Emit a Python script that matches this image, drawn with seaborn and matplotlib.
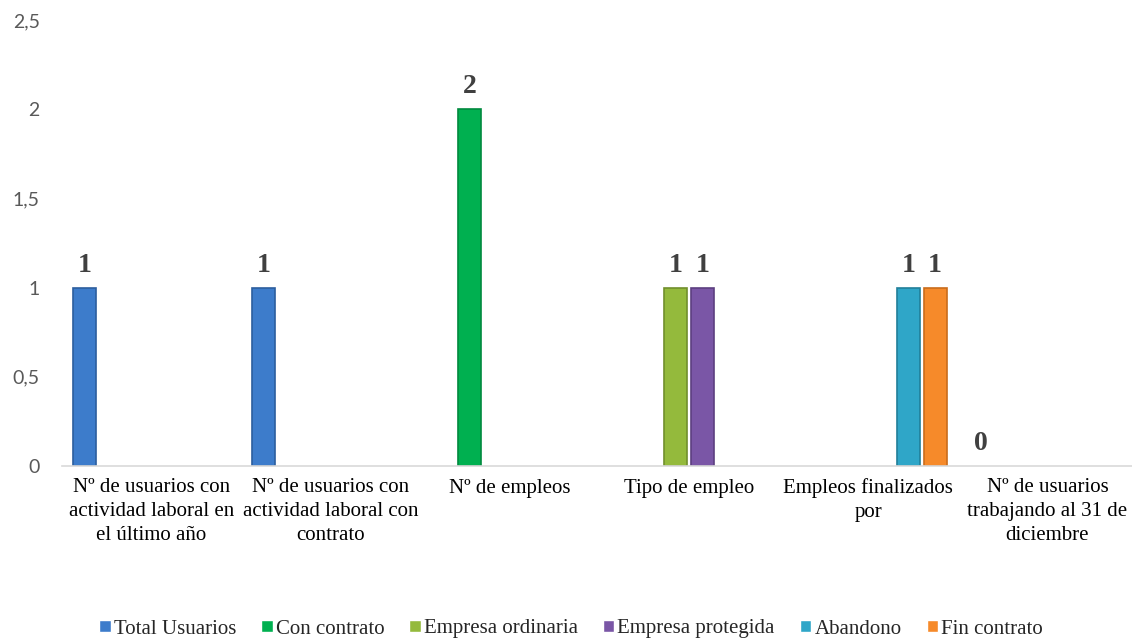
import matplotlib
import matplotlib.pyplot as plt
import numpy as np
import pandas as pd
import seaborn as sns
from matplotlib.font_manager import FontProperties

matplotlib.use("Agg")

categories = [
    "Nº de usuarios con\nactividad laboral en\nel último año",
    "Nº de usuarios con\nactividad laboral con\ncontrato",
    "Nº de empleos",
    "Tipo de empleo",
    "Empleos finalizados\npor",
    "Nº de usuarios\ntrabajando al 31 de\ndiciembre",
]
series = [
    "Total Usuarios",
    "Con contrato",
    "Empresa ordinaria",
    "Empresa protegida",
    "Abandono",
    "Fin contrato",
]
nan = np.nan
total_usuarios = [1, 1, nan, nan, nan, 0]
con_contrato = [nan, nan, 2, nan, nan, nan]
empresa_ordinaria = [nan, nan, nan, 1, nan, nan]
empresa_protegida = [nan, nan, nan, 1, nan, nan]
abandono = [nan, nan, nan, nan, 1, nan]
fin_contrato = [nan, nan, nan, nan, 1, nan]
y_ticks = [0, 0.5, 1, 1.5, 2, 2.5]
y_tick_labels = ["0", "0,5", "1", "1,5", "2", "2,5"]

colors = ["#3D7CCB", "#00B050", "#94BA3C", "#7A56A6", "#2FA6C8", "#F68A2A"]
edges = ["#2C5E9E", "#008A3E", "#718F2C", "#5C3F80", "#217F9A", "#C96C1B"]

values = [total_usuarios, con_contrato, empresa_ordinaria,
          empresa_protegida, abandono, fin_contrato]
rows = []
for name, vals in zip(series, values):
    for cat, v in zip(categories, vals):
        rows.append({"categoria": cat, "serie": name, "valor": v})
df = pd.DataFrame(rows)

sns.set_theme(style="white")
plt.rcParams["font.family"] = ["Liberation Serif", "DejaVu Serif"]

serif = FontProperties(family="Liberation Serif", size=15)
sans = FontProperties(family="Lato", size=14)

fig = plt.figure(figsize=(11.32, 6.41), dpi=100)
ax = fig.add_axes([62 / 1132, 175 / 641, 1075 / 1132, 446 / 641])

sns.barplot(
    data=df,
    x="categoria",
    y="valor",
    hue="serie",
    order=categories,
    hue_order=series,
    palette=colors,
    saturation=1,
    width=0.895,
    gap=0.14,
    dodge=True,
    ax=ax,
    legend=True,
)

for cont, ec in zip(ax.containers, edges):
    for bar in cont:
        bar.set_edgecolor(ec)
        bar.set_linewidth(1.2 if bar.get_height() > 0 else 0)
    ax.bar_label(cont, fmt="%g", padding=7, fontsize=20, fontweight="bold",
                 color="#404040", family="Liberation Serif")

ax.set_xlim(-0.5, 5.5)
ax.set_ylim(0, 2.5)
ax.set_yticks(y_ticks)
ax.set_yticklabels(y_tick_labels, color="#595959")
for lab in ax.get_yticklabels():
    lab.set_fontproperties(sans)
ax.tick_params(axis="y", length=0, pad=16)
ax.tick_params(axis="x", length=0, pad=9, labelcolor="black")
for lab in ax.get_xticklabels():
    lab.set_fontproperties(serif)
    lab.set_linespacing(1.35)
ax.set_xlabel("")
ax.set_ylabel("")

for side in ["top", "right", "left"]:
    ax.spines[side].set_visible(False)
ax.spines["bottom"].set_color("#D9D9D9")
ax.spines["bottom"].set_linewidth(1.2)

handles, labels = ax.get_legend_handles_labels()
ax.legend_.remove()
leg = fig.legend(
    handles,
    labels,
    loc="center",
    bbox_to_anchor=(571 / 1132, 1 - 629 / 641),
    ncol=6,
    frameon=False,
    prop=serif,
    handlelength=0.55,
    handleheight=0.55,
    handletextpad=0.15,
    columnspacing=1.2,
)
for t in leg.get_texts():
    t.set_fontproperties(serif)

fig.savefig("out.png", dpi=100)
